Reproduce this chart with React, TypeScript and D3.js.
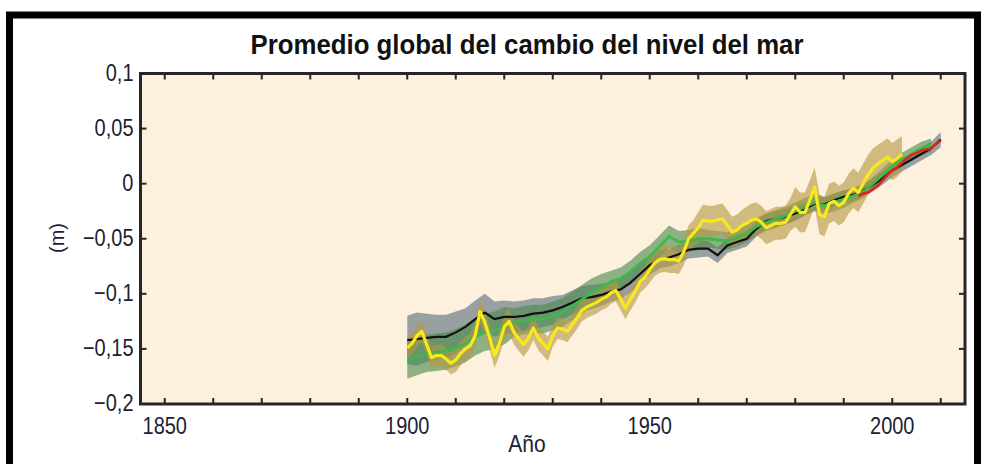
import React from 'react';
import * as d3 from 'd3';

const W = 981;
const H = 464;

const xTickYears = d3.range(1850, 2011, 10);
const xLabelYears = [1850, 1900, 1950, 2000];
const yTicks = [0.1, 0.05, 0, -0.05, -0.1, -0.15, -0.2];
const yTickLabels = ['0,1', '0,05', '0', '−0,05', '−0,1', '−0,15', '−0,2'];

// Yellow series (annual 1900-2002)
const yellowStart = 1900;
const yellowValues = [
  -0.149, -0.145, -0.138, -0.134, -0.146, -0.158, -0.156, -0.156, -0.159, -0.163,
  -0.160, -0.154, -0.150, -0.147, -0.138, -0.116, -0.126, -0.140, -0.156, -0.145,
  -0.130, -0.125, -0.135, -0.141, -0.146, -0.140, -0.131, -0.140, -0.145, -0.150,
  -0.138, -0.131, -0.132, -0.134, -0.128, -0.122, -0.115, -0.112, -0.110, -0.108,
  -0.105, -0.103, -0.099, -0.097, -0.105, -0.113, -0.105, -0.098, -0.089, -0.085,
  -0.078, -0.072, -0.069, -0.068, -0.069, -0.069, -0.070, -0.062, -0.050, -0.045,
  -0.040, -0.033, -0.034, -0.034, -0.033, -0.032, -0.038, -0.044, -0.042, -0.038,
  -0.036, -0.033, -0.032, -0.035, -0.040, -0.038, -0.036, -0.036, -0.035, -0.028,
  -0.021, -0.026, -0.026, -0.015, -0.003, -0.028, -0.030, -0.018, -0.016, -0.020,
  -0.017, -0.009, -0.004, -0.008, 0.000, 0.008, 0.014, 0.018, 0.021, 0.024,
  0.020, 0.023, 0.027,
];
const yellowErr = [
  0.010, 0.010, 0.010, 0.010, 0.010, 0.010, 0.010, 0.010, 0.010, 0.010,
  0.011, 0.011, 0.011, 0.011, 0.011, 0.011, 0.011, 0.011, 0.011, 0.011,
  0.011, 0.011, 0.011, 0.011, 0.011, 0.011, 0.011, 0.011, 0.011, 0.011,
  0.010, 0.010, 0.010, 0.010, 0.010, 0.010, 0.010, 0.010, 0.010, 0.010,
  0.010, 0.010, 0.010, 0.010, 0.010, 0.010, 0.010, 0.010, 0.010, 0.010,
  0.012, 0.012, 0.012, 0.012, 0.012, 0.012, 0.012, 0.012, 0.012, 0.012,
  0.014, 0.014, 0.014, 0.014, 0.014, 0.014, 0.014, 0.014, 0.014, 0.014,
  0.015, 0.015, 0.015, 0.015, 0.015, 0.015, 0.015, 0.015, 0.015, 0.015,
  0.018, 0.018, 0.018, 0.018, 0.018, 0.018, 0.018, 0.018, 0.018, 0.018,
  0.018, 0.018, 0.018, 0.018, 0.018, 0.018, 0.018, 0.017, 0.017, 0.017,
  0.017, 0.017, 0.016,
];

// Green series (every 2 years 1900-2008)
const greenYears = d3.range(1900, 2009, 2);
const greenValues = [
  -0.160, -0.157, -0.154, -0.153, -0.152, -0.149, -0.145, -0.139, -0.135, -0.133,
  -0.129, -0.126, -0.124, -0.123, -0.123, -0.120, -0.117, -0.111, -0.105, -0.099,
  -0.095, -0.089, -0.086, -0.080, -0.072, -0.066, -0.057, -0.048, -0.053, -0.052,
  -0.050, -0.050, -0.051, -0.052, -0.049, -0.045, -0.039, -0.035, -0.032, -0.029,
  -0.025, -0.021, -0.017, -0.020, -0.017, -0.014, -0.011, -0.007, 0.000, 0.008,
  0.016, 0.022, 0.027, 0.032, 0.035,
];
const greenErr = [
  0.017, 0.017, 0.017, 0.017, 0.017, 0.017, 0.017, 0.017, 0.017, 0.017,
  0.017, 0.013, 0.013, 0.013, 0.013, 0.013, 0.013, 0.013, 0.013, 0.013,
  0.013, 0.010, 0.010, 0.010, 0.010, 0.010, 0.010, 0.010, 0.010, 0.010,
  0.010, 0.008, 0.008, 0.008, 0.008, 0.008, 0.008, 0.008, 0.008, 0.008,
  0.008, 0.008, 0.008, 0.008, 0.008, 0.008, 0.006, 0.006, 0.006, 0.006,
  0.006, 0.006, 0.006, 0.006, 0.006,
];

// Black series (every 2 years 1900-2010)
const blackYears = d3.range(1900, 2011, 2);
const blackValues = [
  -0.142, -0.141, -0.140, -0.139, -0.139, -0.135, -0.130, -0.123, -0.117, -0.123,
  -0.121, -0.121, -0.120, -0.118, -0.117, -0.115, -0.112, -0.108, -0.104, -0.103,
  -0.101, -0.098, -0.096, -0.090, -0.082, -0.074, -0.069, -0.067, -0.064, -0.060,
  -0.059, -0.059, -0.065, -0.056, -0.053, -0.050, -0.041, -0.034, -0.032, -0.030,
  -0.027, -0.023, -0.018, -0.019, -0.015, -0.012, -0.010, -0.006, -0.001, 0.005,
  0.012, 0.017, 0.022, 0.027, 0.032, 0.040,
];
const blackErr = [
  0.022, 0.024, 0.022, 0.020, 0.020, 0.019, 0.017, 0.017, 0.017, 0.016,
  0.015, 0.014, 0.014, 0.014, 0.013, 0.013, 0.011, 0.011, 0.011, 0.011,
  0.010, 0.009, 0.009, 0.009, 0.009, 0.009, 0.008, 0.008, 0.008, 0.008,
  0.008, 0.007, 0.007, 0.007, 0.007, 0.007, 0.007, 0.007, 0.007, 0.007,
  0.007, 0.006, 0.006, 0.006, 0.006, 0.006, 0.006, 0.006, 0.006, 0.006,
  0.006, 0.006, 0.006, 0.006, 0.006, 0.007,
];

// Red series (satellite, annual 1993-2010)
const redStart = 1993;
const redValues = [
  -0.011, -0.009, -0.008, -0.005, -0.002, 0.003, 0.008, 0.012, 0.015, 0.019,
  0.023, 0.026, 0.028, 0.030, 0.031, 0.032, 0.036, 0.039,
];

type Pt = { x: number; v: number; e: number };

const toPts = (years: number[], vals: number[], errs?: number[]): Pt[] =>
  vals.map((v, i) => ({ x: years[i], v, e: errs ? errs[i] : 0 }));

const yellowPts = toPts(yellowValues.map((_, i) => yellowStart + i), yellowValues, yellowErr);
const greenPts = toPts(greenYears, greenValues, greenErr);
const blackPts = toPts(blackYears, blackValues, blackErr);
const redPts = toPts(redValues.map((_, i) => redStart + i), redValues);

const FONT = "'Liberation Sans', Arial, sans-serif";

function Label(props: { x: number; y: number; anchor: string; size: number; sy?: number; weight?: string; rotate?: number; children: string; fill?: string; len?: number }) {
  const { x, y, anchor, size, sy = 1.18, weight = 'normal', rotate = 0, children, fill = '#1c2233', len } = props;
  return (
    <g transform={`translate(${x},${y}) rotate(${rotate}) scale(1,${sy})`}>
      <text x={0} y={0} textAnchor={anchor} fontFamily={FONT} fontSize={size} fontWeight={weight} fill={fill}
        {...(len ? { textLength: len, lengthAdjust: 'spacingAndGlyphs' } : {})}>
        {children}
      </text>
    </g>
  );
}

export default function App() {
  const left = 140.5, right = 965, top = 73.5, bottom = 404;
  const x = d3.scaleLinear().domain([1845, 2015]).range([left, right]);
  const y = d3.scaleLinear().domain([-0.2, 0.1]).range([bottom, top]);

  const area = d3.area<Pt>().x(d => x(d.x)).y0(d => y(d.v - d.e)).y1(d => y(d.v + d.e));
  const line = d3.line<Pt>().x(d => x(d.x)).y(d => y(d.v));

  const tickLen = 6;
  const axisColor = '#262626';

  return (
    <svg width={W} height={H} style={{ position: 'absolute', left: 0, top: 0, background: '#fff' }}>
      <rect x={0} y={0} width={W} height={H} fill="#fff" />
      {/* outer black frame */}
      <rect x={9.5} y={15} width={968} height={470} fill="none" stroke="#000" strokeWidth={7} />

      <Label x={527} y={54} anchor="middle" size={24} weight="bold" fill="#111" len={553}>
        Promedio global del cambio del nivel del mar
      </Label>

      <rect x={left} y={top} width={right - left} height={bottom - top} fill="#fdf0dc" />

      <defs>
        <clipPath id="plotclip">
          <rect x={left} y={top} width={right - left} height={bottom - top} />
        </clipPath>
      </defs>

      <g clipPath="url(#plotclip)">
        <path d={area(blackPts) || ''} fill="#76868d" opacity={0.75} />
        <path d={area(greenPts) || ''} fill="#4a8a4e" opacity={0.62} />
        <path d={area(yellowPts) || ''} fill="#b59a45" opacity={0.62} />
        <path d={line(blackPts) || ''} fill="none" stroke="#111" strokeWidth={2.2} />
        <path d={line(greenPts) || ''} fill="none" stroke="#3fb84a" strokeWidth={2.8} />
        <path d={line(yellowPts) || ''} fill="none" stroke="#f6ea1c" strokeWidth={3.2} strokeLinejoin="round" />
        <path d={line(redPts) || ''} fill="none" stroke="#e2231d" strokeWidth={2.6} />
      </g>

      {/* ticks */}
      {xTickYears.map(t => (
        <g key={'xt' + t}>
          <line x1={x(t)} x2={x(t)} y1={bottom} y2={bottom - tickLen} stroke={axisColor} strokeWidth={2} />
          <line x1={x(t)} x2={x(t)} y1={top} y2={top + tickLen} stroke={axisColor} strokeWidth={2} />
        </g>
      ))}
      {yTicks.map(t => (
        <g key={'yt' + t}>
          <line x1={left} x2={left + tickLen} y1={y(t)} y2={y(t)} stroke={axisColor} strokeWidth={2} />
          <line x1={right} x2={right - tickLen} y1={y(t)} y2={y(t)} stroke={axisColor} strokeWidth={2} />
        </g>
      ))}

      <rect x={left} y={top} width={right - left} height={bottom - top} fill="none" stroke={axisColor} strokeWidth={3} />

      {yTicks.map((t, i) => (
        <Label key={'yl' + t} x={left - 7} y={y(t) + 7} anchor="end" size={20}>
          {yTickLabels[i]}
        </Label>
      ))}
      {xLabelYears.map(t => (
        <Label key={'xl' + t} x={x(t)} y={bottom + 30} anchor="middle" size={20}>
          {String(t)}
        </Label>
      ))}

      <Label x={527} y={452} anchor="middle" size={21}>Año</Label>
      <Label x={64} y={238} anchor="middle" size={20} rotate={-90} sy={1}>(m)</Label>
    </svg>
  );
}
